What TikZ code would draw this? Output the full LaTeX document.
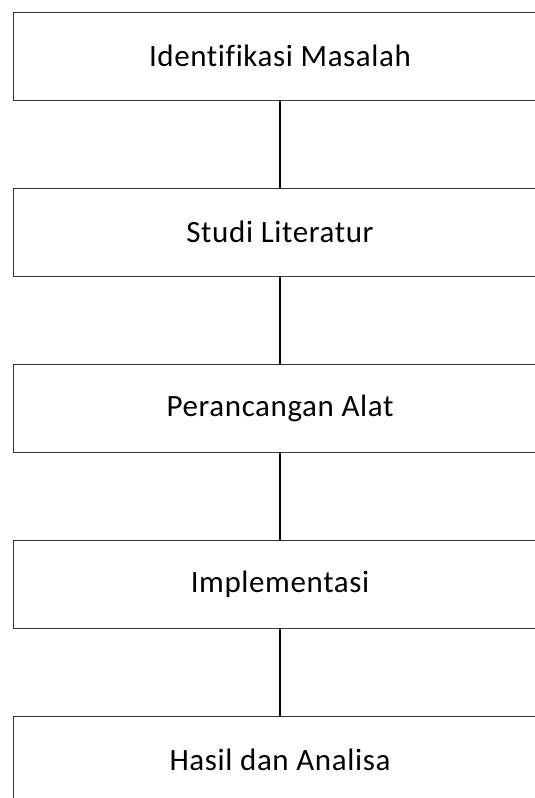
\documentclass[tikz,border=0pt]{standalone}
\usepackage{fontspec}
\setmainfont[Ligatures=NoCommon, LetterSpace=2]{Carlito}
\usetikzlibrary{positioning}

\begin{document}
\begin{tikzpicture}[
    x=1pt, y=1pt,
    % --- Step Boxes ---
    stepbox/.style={
        draw=black!80,
        fill=white,
        line width=1pt,
        minimum width=534pt,
        minimum height=88pt,
        inner sep=0pt,
        font=\fontsize{31}{37}\selectfont
    },
    % --- Connecting Lines ---
    link/.style={
        line width=2.8pt,
        color=black
    }
]
    \useasboundingbox (0,0) rectangle (535,-798);

    % Steps, top to bottom
    \node[stepbox] (ident) at (280,-56) {Identifikasi Masalah};
    \node[stepbox, below=87pt of ident] (studi) {Studi Literatur};
    \node[stepbox, below=87pt of studi] (rancang) {Perancangan Alat};
    \node[stepbox, below=87pt of rancang] (impl) {Implementasi};
    \node[stepbox, below=87pt of impl] (hasil) {Hasil dan Analisa};

    % Connectors
    \draw[link] (ident) -- (studi);
    \draw[link] (studi) -- (rancang);
    \draw[link] (rancang) -- (impl);
    \draw[link] (impl) -- (hasil);
\end{tikzpicture}
\end{document}
